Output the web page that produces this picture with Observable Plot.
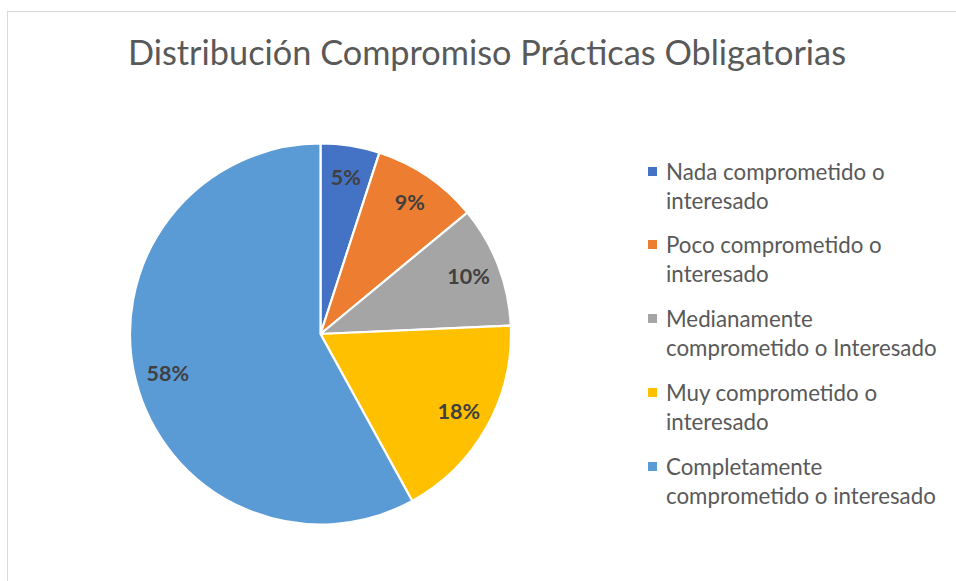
<!DOCTYPE html>
<html>
<head>
<meta charset="utf-8">
<script src="https://cdn.jsdelivr.net/npm/d3@7"></script>
<script src="https://cdn.jsdelivr.net/npm/@observablehq/plot@0.6"></script>
<style>
  html, body { margin: 0; padding: 0; background: #fff; }
  #wrap { position: relative; width: 956px; height: 581px; overflow: hidden; font-family: Lato, "Open Sans", sans-serif; }
  #frame { position: absolute; left: 7px; top: 11px; width: 1000px; height: 700px; border-left: 1px solid #d9d9d9; border-top: 1px solid #d9d9d9; }
  #title { position: absolute; left: 0; width: 974px; top: 31px; text-align: center; font-size: 34.3px; color: #595959; white-space: nowrap; }
  #chart { position: absolute; left: 0; top: 0; }
  #legend { position: absolute; left: 648px; top: 0; }
  .item { position: absolute; left: 0; white-space: nowrap; font-size: 22.3px; line-height: 29px; color: #595959; }
  .sw { position: absolute; left: 0; top: 10px; width: 9px; height: 9px; }
  .lt { position: absolute; left: 18px; top: 0; }
</style>
</head>
<body>
<div id="wrap">
  <div id="frame"></div>
  <div id="chart"></div>
  <div id="title">Distribución Compromiso Prácticas Obligatorias</div>
  <div id="legend"></div>
</div>
<script>
const categories = [
  "Nada comprometido o interesado",
  "Poco comprometido o interesado",
  "Medianamente comprometido o Interesado",
  "Muy comprometido o interesado",
  "Completamente comprometido o interesado"
];
const legendLines = [
  ["Nada comprometido o", "interesado"],
  ["Poco comprometido o", "interesado"],
  ["Medianamente", "comprometido o Interesado"],
  ["Muy comprometido o", "interesado"],
  ["Completamente", "comprometido o interesado"]
];
const values = [5, 9, 10.3, 17.7, 58];
const labels = ["5%", "9%", "10%", "18%", "58%"];
const colors = ["#4472C4", "#ED7D31", "#A5A5A5", "#FFC000", "#5B9BD5"];

const pie = d3.pie().sort(null).value(d => d.value);
const arcs = pie(categories.map((c, i) => ({category: c, value: values[i], label: labels[i], color: colors[i]})));

const labelR = 0.83;
const labelData = arcs.map(a => {
  const m = (a.startAngle + a.endAngle) / 2;
  return {label: a.data.label, x: labelR * Math.sin(m), y: labelR * Math.cos(m)};
});

function pieMark(index, scales, values, dimensions) {
  const cx = scales.x(0), cy = scales.y(0);
  const r = scales.x(1) - scales.x(0);
  const arc = d3.arc().innerRadius(0).outerRadius(r);
  const g = d3.create("svg:g").attr("transform", `translate(${cx},${cy})`);
  g.selectAll("path").data(arcs).join("path")
    .attr("d", arc)
    .attr("fill", d => d.data.color)
    .attr("stroke", "#fff")
    .attr("stroke-width", 2.2)
    .attr("stroke-linejoin", "round");
  return g.node();
}

const plot = Plot.plot({
  width: 956,
  height: 581,
  marginLeft: 130,
  marginRight: 956 - 511,
  marginTop: 143,
  marginBottom: 581 - 525,
  x: {domain: [-1, 1], axis: null},
  y: {domain: [-1, 1], axis: null},
  style: {background: "transparent", overflow: "visible"},
  marks: [
    pieMark,
    Plot.text(labelData, {x: "x", y: "y", text: "label", fill: "#404040", fontSize: 21.5, fontWeight: "bold", fontFamily: "Lato, 'Open Sans', sans-serif"})
  ]
});
document.getElementById("chart").appendChild(plot);

const legend = document.getElementById("legend");
const tops = [157, 230, 304, 378, 452];
legendLines.forEach((lines, i) => {
  const it = document.createElement("div");
  it.className = "item";
  it.style.top = tops[i] + "px";
  const sw = document.createElement("div");
  sw.className = "sw";
  sw.style.background = colors[i];
  const t = document.createElement("div");
  t.className = "lt";
  t.innerHTML = lines.join("<br>");
  it.appendChild(sw);
  it.appendChild(t);
  legend.appendChild(it);
});
</script>
</body>
</html>
